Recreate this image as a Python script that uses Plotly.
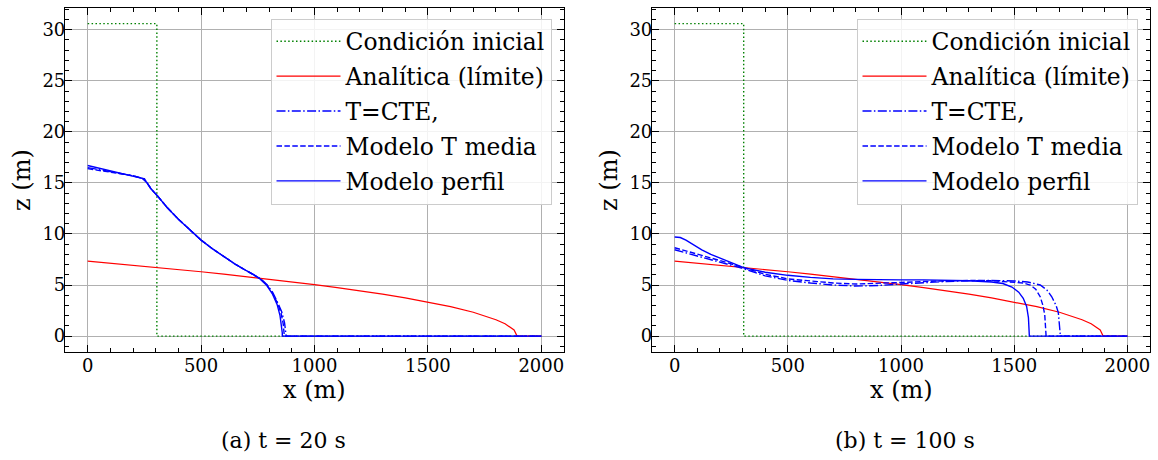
import plotly.graph_objects as go

# ---- data -------------------------------------------------------------
# initial condition (same in both panels)
ic_x = [0, 305, 305, 2000]
ic_z = [30.6, 30.6, 0, 0]

# analytical limit solution (same in both panels)
an_x = [0, 100, 200, 300, 400, 500, 600, 700, 800, 900, 1000, 1100, 1200,
        1300, 1400, 1500, 1600, 1700, 1750, 1800, 1840, 1870, 1880, 1893, 2000]
an_z = [7.35, 7.15, 6.95, 6.74, 6.53, 6.30, 6.07, 5.83, 5.58, 5.32, 5.04,
        4.75, 4.44, 4.11, 3.74, 3.34, 2.88, 2.33, 2.00, 1.60, 1.20, 0.76,
        0.60, 0.0, 0.0]

# t = 20 s
a_cte_x = [0, 100, 200, 250, 280, 305, 350, 400, 450, 500, 550, 600, 650,
           700, 730, 760, 790, 815, 835, 855, 868, 874, 875, 875, 2000]
a_cte_z = [16.5, 16.1, 15.7, 15.4, 14.4, 13.8, 12.6, 11.45, 10.4, 9.4, 8.55,
           7.8, 7.05, 6.4, 6.05, 5.65, 5.05, 4.3, 3.4, 2.4, 1.3, 0.4, 0.1, 0, 0]

a_med_x = [0, 100, 200, 250, 280, 305, 350, 400, 450, 500, 550, 600, 650,
           700, 730, 760, 790, 815, 835, 852, 862, 866, 867, 867, 2000]
a_med_z = [16.4, 16.05, 15.7, 15.4, 14.4, 13.8, 12.6, 11.45, 10.4, 9.4, 8.55,
           7.8, 7.05, 6.4, 6.05, 5.62, 5.0, 4.2, 3.3, 2.3, 1.2, 0.4, 0.1, 0, 0]

a_per_x = [0, 50, 100, 150, 200, 240, 260, 280, 305, 350, 400, 450, 500,
           550, 600, 650, 700, 730, 760, 790, 815, 835, 848, 855, 858, 858, 2000]
a_per_z = [16.7, 16.45, 16.2, 15.95, 15.7, 15.45, 15.05, 14.4, 13.8, 12.6,
           11.45, 10.4, 9.4, 8.55, 7.8, 7.05, 6.4, 6.05, 5.6, 4.95, 4.1, 3.1,
           2.0, 1.0, 0.3, 0, 0]

# t = 100 s
b_cte_x = [0, 100, 200, 305, 400, 500, 600, 700, 800, 900, 1000, 1100, 1200,
           1300, 1400, 1500, 1560, 1615, 1645, 1666, 1685, 1695, 1701, 1703,
           1703, 2000]
b_cte_z = [8.45, 7.85, 7.25, 6.6, 5.9, 5.45, 5.2, 5.0, 4.9, 4.95, 5.1, 5.25,
           5.35, 5.42, 5.45, 5.4, 5.3, 5.0, 4.5, 3.85, 3.0, 2.3, 1.2, 0.3, 0, 0]

b_med_x = [0, 100, 200, 305, 400, 500, 600, 700, 800, 900, 1000, 1100, 1200,
           1300, 1400, 1500, 1540, 1571, 1595, 1615, 1627, 1635, 1640, 1641,
           1641, 2000]
b_med_z = [8.65, 8.05, 7.4, 6.7, 6.05, 5.6, 5.4, 5.2, 5.1, 5.15, 5.25, 5.35,
           5.4, 5.45, 5.42, 5.3, 5.2, 5.0, 4.6, 3.85, 3.0, 2.1, 0.9, 0.3, 0, 0]

b_per_x = [0, 25, 50, 85, 120, 160, 230, 305, 400, 500, 600, 700, 800, 900,
           1000, 1100, 1200, 1300, 1400, 1450, 1490, 1520, 1540, 1555, 1563,
           1567, 1567, 2000]
b_per_z = [9.7, 9.65, 9.4, 8.9, 8.45, 8.0, 7.35, 6.7, 6.25, 5.95, 5.75, 5.6,
           5.55, 5.5, 5.5, 5.5, 5.48, 5.42, 5.3, 5.15, 4.8, 4.3, 3.7, 2.9, 1.8,
           0.6, 0, 0]

names = ["Condición inicial", "Analítica (límite)", "T=CTE,",
         "Modelo T media", "Modelo perfil"]
captions = ["(a) t = 20 s", "(b) t = 100 s"]

# ---- styling ------------------------------------------------------------
W, H = 1158, 460
FONT = "DejaVu Serif"
LW = 1.4
styles = [
    dict(color="#008000", width=LW, dash="1.5px,2.4px"),
    dict(color="#ff0000", width=1.2),
    dict(color="#0000ff", width=LW, dash="9px,2.4px,1.5px,2.4px"),
    dict(color="#0000ff", width=LW, dash="5.5px,2.4px"),
    dict(color="#0000ff", width=LW),
]

panels = [
    [(ic_x, ic_z), (an_x, an_z), (a_cte_x, a_cte_z), (a_med_x, a_med_z),
     (a_per_x, a_per_z)],
    [(ic_x, ic_z), (an_x, an_z), (b_cte_x, b_cte_z), (b_med_x, b_med_z),
     (b_per_x, b_per_z)],
]

# plot frames in pixels: (left, right), shared (top, bottom)
frames_x = [(65, 564), (652, 1150)]
top_px, bot_px = 8.3, 351.7

fig = go.Figure()
for p, series in enumerate(panels):
    sfx = "" if p == 0 else str(p + 1)
    for k, (xs, zs) in enumerate(series):
        fig.add_trace(go.Scatter(
            x=xs, y=zs, mode="lines", name=names[k], line=styles[k],
            xaxis="x" + sfx, yaxis="y" + sfx,
            legend="legend" + sfx, legendgroup=f"g{p}{k}",
        ))

axis_common = dict(
    showline=True, linecolor="black", linewidth=1.2, mirror="ticks",
    ticks="inside", ticklen=7, tickwidth=1.1, tickcolor="black",
    showgrid=True, gridcolor="#b0b0b0", gridwidth=0.9, zeroline=False,
    tickfont=dict(family=FONT, size=18, color="black"),
)

layout = dict(
    width=W, height=H, margin=dict(l=0, r=0, t=0, b=0),
    paper_bgcolor="white", plot_bgcolor="white", showlegend=True,
    font=dict(family=FONT, color="black"),
)

annotations = []
for p in range(2):
    sfx = "" if p == 0 else str(p + 1)
    l, r = frames_x[p]
    layout["xaxis" + sfx] = dict(
        axis_common, domain=[l / W, r / W], range=[-100, 2100],
        tickvals=[0, 500, 1000, 1500, 2000], anchor="y" + sfx,
        ticklabelstandoff=-2,
        minor=dict(dtick=100, tick0=0, ticks="inside", ticklen=3.5,
                   tickcolor="black", showgrid=False),
    )
    layout["yaxis" + sfx] = dict(
        axis_common, domain=[1 - bot_px / H, 1 - top_px / H],
        range=[-1.53, 32.1], tickvals=[0, 5, 10, 15, 20, 25, 30],
        anchor="x" + sfx, ticklabelstandoff=-5,
        minor=dict(dtick=1, tick0=0, ticks="inside", ticklen=3.5,
                   tickcolor="black", showgrid=False),
    )
    layout["legend" + sfx] = dict(
        x=(r - 12.5) / W, xanchor="right", y=1 - 18.5 / H, yanchor="top",
        bgcolor="rgba(255,255,255,0.85)", bordercolor="#cccccc",
        borderwidth=1, font=dict(family=FONT, size=23.4, color="black"),
        tracegroupgap=1.5, itemwidth=64,
    )
    # axis titles
    annotations.append(dict(
        text="x (m)", xref="paper", yref="paper", x=(l + r) / 2 / W,
        y=1 - 390 / H, xanchor="center", yanchor="middle", showarrow=False,
        font=dict(family=FONT, size=24, color="black")))
    annotations.append(dict(
        text="z (m)", xref="paper", yref="paper", x=(l - 43) / W,
        y=1 - (top_px + bot_px) / 2 / H, xanchor="center", yanchor="middle",
        textangle=-90, showarrow=False,
        font=dict(family=FONT, size=24, color="black")))
    # sub-figure caption
    annotations.append(dict(
        text=captions[p], xref="paper", yref="paper",
        x=[283, 905][p] / W, y=1 - 440 / H, xanchor="center",
        yanchor="middle", showarrow=False,
        font=dict(family=FONT, size=22, color="black")))

layout["annotations"] = annotations
fig.update_layout(**layout)
fig.write_html("out.html")
